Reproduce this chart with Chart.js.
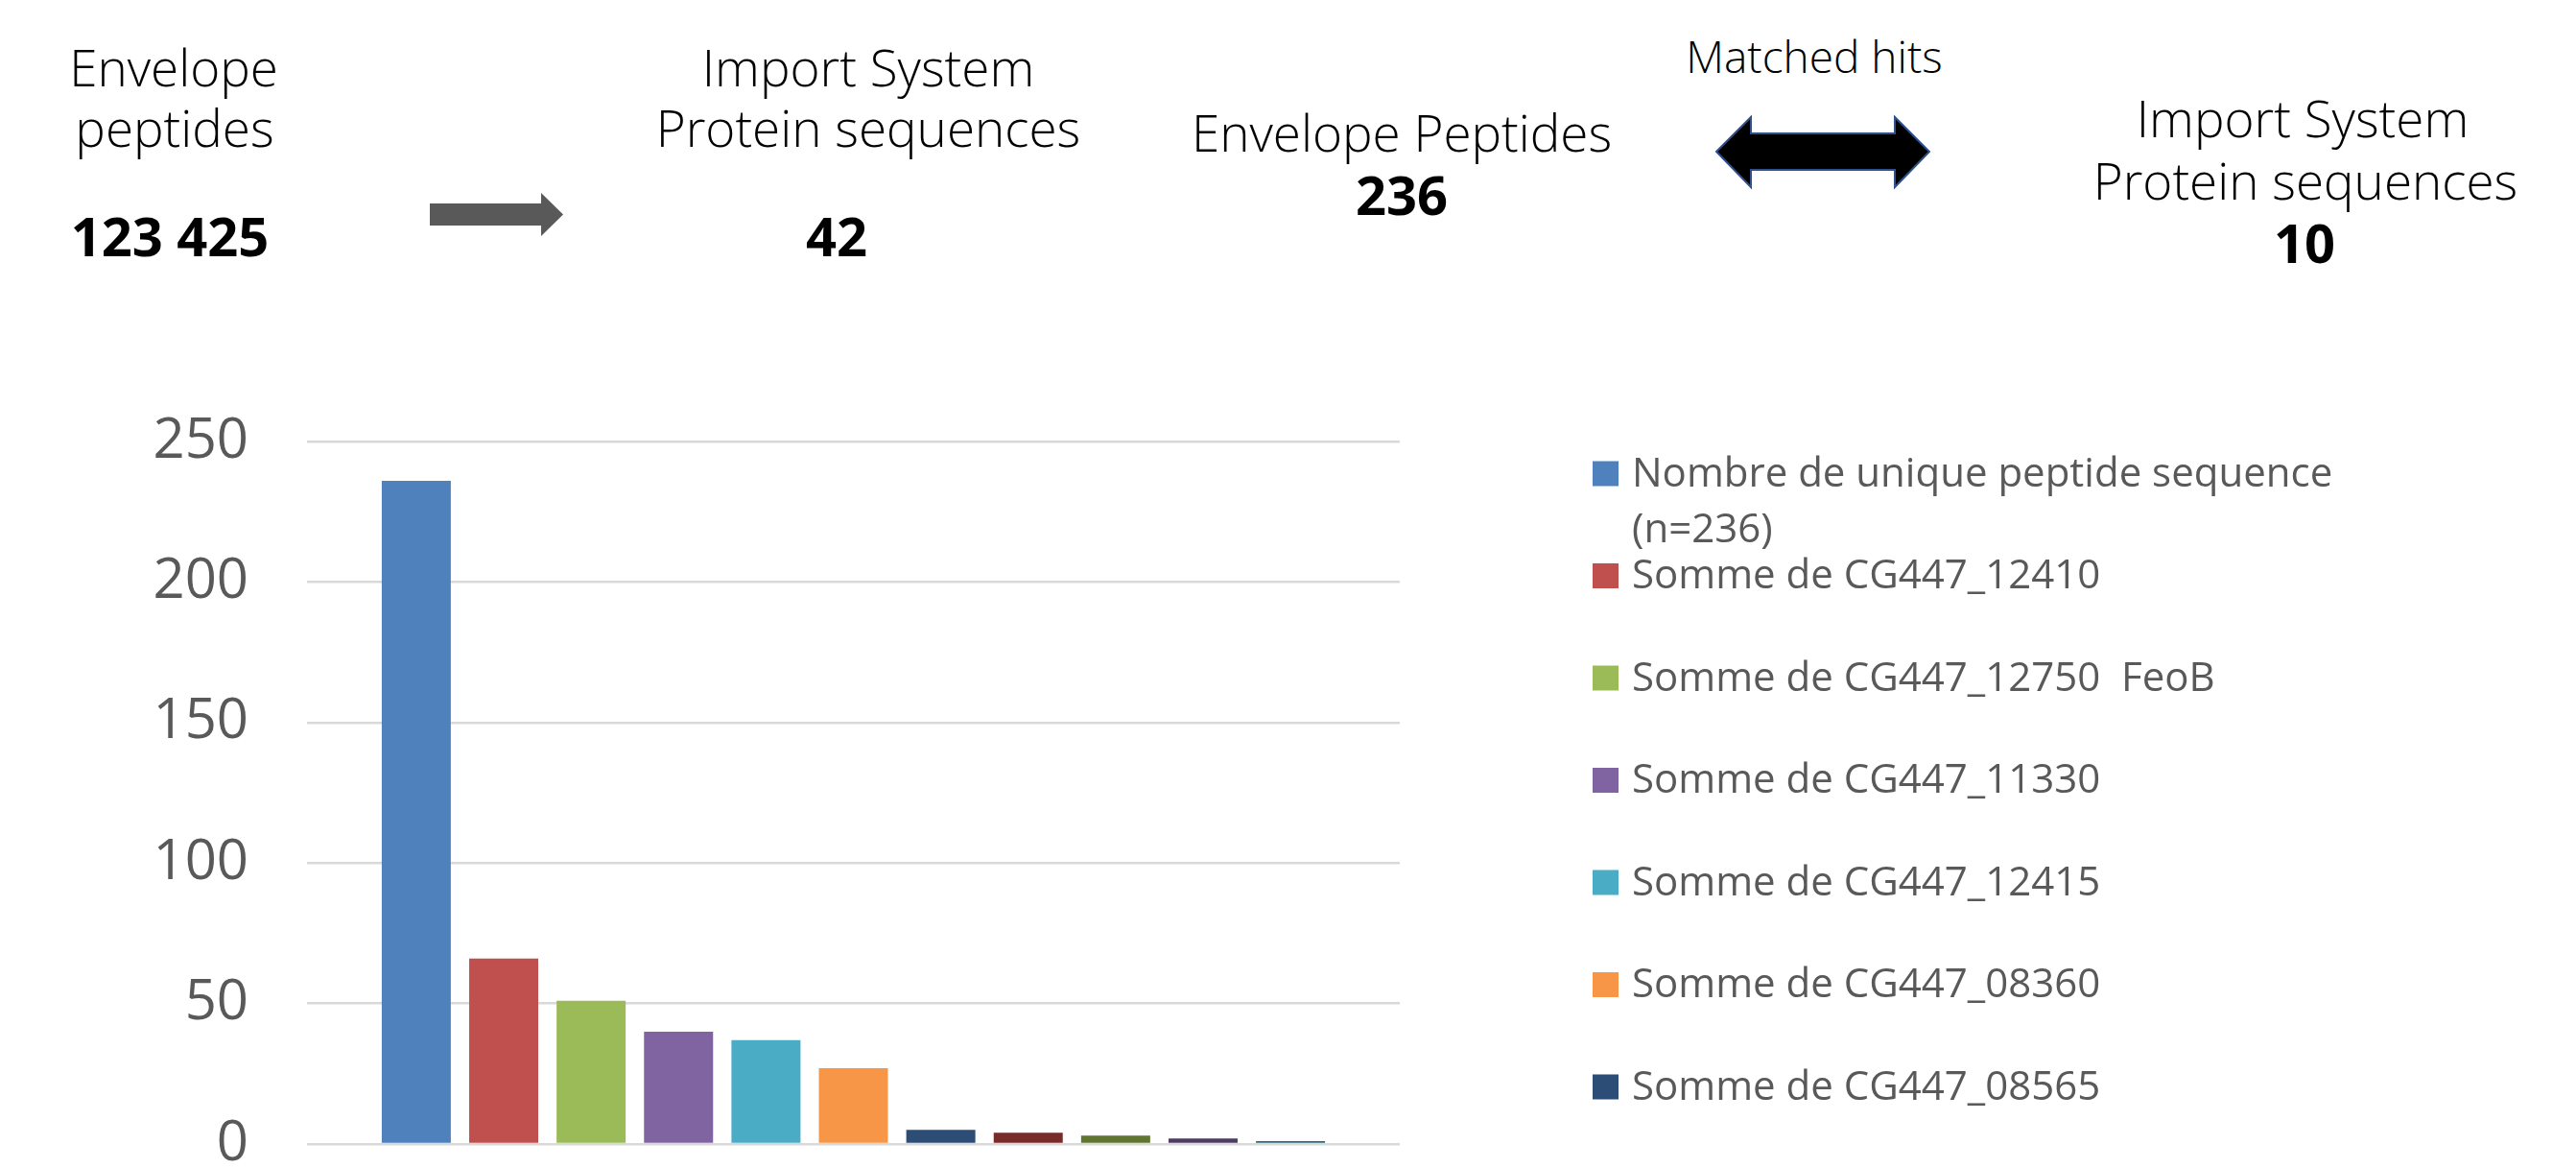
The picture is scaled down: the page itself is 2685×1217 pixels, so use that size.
<!DOCTYPE html>
<html><head><meta charset="utf-8">
<script src="https://cdn.jsdelivr.net/npm/chart.js@4.4.0/dist/chart.umd.min.js"></script>
<style>
html,body{margin:0;padding:0;background:#fff;overflow:hidden;width:2685px;height:1217px;}
#wrap{position:absolute;left:0;top:0;width:2685px;height:1300px;}
.t{position:absolute;width:800px;text-align:center;font-family:"Open Sans",sans-serif;font-weight:300;font-size:53px;color:#000;white-space:nowrap;line-height:1;}
.b{font-weight:700;font-size:56px;}
.s{font-size:46px;}
svg{position:absolute;left:0;top:0;}
</style></head><body>
<svg width="2685" height="320">
  <polygon points="448,212 564,212 564,201 587,223.5 564,246 564,235 448,235" fill="#595959"/>
  <polygon points="1789,158 1825,122 1825,139 1975,139 1975,122 2011,158 1975,195 1975,177 1825,177 1825,195" fill="#000" stroke="#2F528F" stroke-width="2"/>
</svg>
<div class="t" style="left:-219px;top:43px">Envelope</div>
<div class="t" style="left:-218px;top:106px">peptides</div>
<div class="t b" style="left:-223px;top:217px">123 425</div>
<div class="t" style="left:505px;top:43px">Import System</div>
<div class="t" style="left:505px;top:106px">Protein sequences</div>
<div class="t b" style="left:472px;top:217px">42</div>
<div class="t" style="left:1061px;top:111px">Envelope Peptides</div>
<div class="t b" style="left:1061px;top:174px">236</div>
<div class="t s" style="left:1491px;top:35px">Matched hits</div>
<div class="t" style="left:2000px;top:96px">Import System</div>
<div class="t" style="left:2003px;top:161px">Protein sequences</div>
<div class="t b" style="left:2002px;top:224px">10</div>
<div id="wrap"><canvas id="c" width="2685" height="1300"></canvas></div>
<script>
const categories = ["Total"];
const seriesNames = [
  "Nombre de unique peptide sequence (n=236)",
  "Somme de CG447_12410",
  "Somme de CG447_12750  FeoB",
  "Somme de CG447_11330",
  "Somme de CG447_12415",
  "Somme de CG447_08360",
  "Somme de CG447_08565",
  "", "", "", ""
];
const seriesValues = [236, 66, 51, 40, 37, 27, 5, 4, 3, 2, 1];
const seriesColors = ["#4F81BD","#C0504D","#9BBB59","#8064A2","#4BACC6","#F79646","#2C4D75","#772C2A","#5F7530","#4D3B62","#276A7C"];
const yTickValues = [0, 50, 100, 150, 200, 250];

const sideLegend = {
  id: 'sideLegend',
  afterDraw(chart) {
    const ctx = chart.ctx;
    const boxX = 1660, boxW = 27, boxH = 26, textX = 1701, maxW = 740, lineH = 58, step = 106.5;
    let y = 493.5;
    ctx.save();
    ctx.font = '42px "Open Sans", sans-serif';
    ctx.textBaseline = 'alphabetic';
    ctx.textAlign = 'left';
    chart.data.datasets.forEach(ds => {
      if (!ds.label) return;
      ctx.fillStyle = ds.backgroundColor;
      ctx.fillRect(boxX, y - boxH / 2, boxW, boxH);
      let lines = [ds.label];
      if (ctx.measureText(ds.label).width > maxW) {
        let idx = ds.label.lastIndexOf(' ');
        while (idx > 0 && ctx.measureText(ds.label.slice(0, idx)).width > maxW) idx = ds.label.lastIndexOf(' ', idx - 1);
        lines = [ds.label.slice(0, idx), ds.label.slice(idx + 1)];
      }
      ctx.fillStyle = '#595959';
      lines.forEach((ln, i) => ctx.fillText(ln, textX, y + 13 + i * lineH));
      y += step;
    });
    ctx.restore();
  }
};

new Chart(document.getElementById('c'), {
  type: 'bar',
  data: {
    labels: categories,
    datasets: seriesValues.map((v, i) => ({
      label: seriesNames[i],
      data: [v],
      backgroundColor: seriesColors[i],
      borderWidth: 0,
      categoryPercentage: 0.88,
      barPercentage: 0.79
    }))
  },
  options: {
    responsive: false,
    animation: false,
    devicePixelRatio: 1,
    layout: { padding: { left: 0, right: 1226, top: 460, bottom: 28 } },
    plugins: { legend: { display: false }, tooltip: { enabled: false } },
    scales: {
      x: {
        grid: { display: false, drawTicks: false },
        border: { display: false },
        ticks: { color: '#595959', font: { family: 'Open Sans', size: 46 }, padding: 23 },
        afterFit(s) { s.height = 80; }
      },
      y: {
        min: 0, max: 250,
        afterBuildTicks(s) { s.ticks = yTickValues.map(v => ({ value: v })); },
        grid: { color: '#D9D9D9', lineWidth: 2.5, drawTicks: false },
        border: { display: false },
        ticks: { color: '#595959', font: { family: 'Open Sans', size: 58 }, padding: 61 },
        afterFit(s) { s.width = 320; }
      }
    }
  },
  plugins: [sideLegend]
});
</script>
</body></html>
